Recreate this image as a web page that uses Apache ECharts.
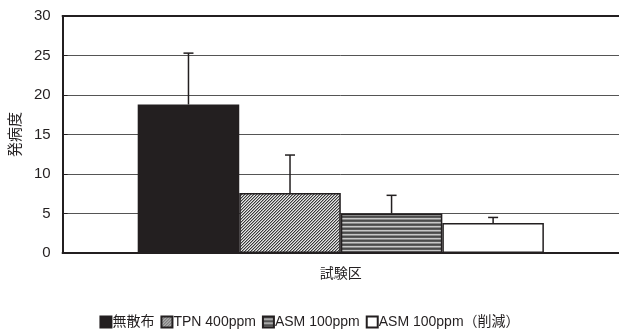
<!DOCTYPE html>
<html>
<head>
<meta charset="utf-8">
<script src="https://cdn.jsdelivr.net/npm/echarts@6/dist/echarts.min.js"></script>
<style>
    html, body { margin: 0; padding: 0; background: #fff; }
    #main { width: 619px; height: 331px; }
</style>
</head>
<body>
<div id="main"></div>
<script>
// 系列名
let seriesNames = ['無散布', 'TPN 400ppm', 'ASM 100ppm', 'ASM 100ppm（削減）'];
// 平均値
let meanValues = [18.8, 7.6, 5.0, 3.8];
// 標準偏差（上側のみ）
let errValues = [6.5, 4.8, 2.3, 0.7];
let yTicks = [0, 5, 10, 15, 20, 25, 30];

let font = "'Liberation Sans', 'Noto Sans CJK JP', sans-serif";
let ink = '#231f20';

// 網目パターン
function hatchPattern() {
    let c = document.createElement('canvas');
    c.width = 3;
    c.height = 3;
    let ctx = c.getContext('2d');
    let cols = ['#3a3a3a', '#a0a0a0', '#e8e8e8'];
    for (let x = 0; x < 3; x++) {
        for (let y = 0; y < 3; y++) {
            ctx.fillStyle = cols[(x + y) % 3];
            ctx.fillRect(x, y, 1, 1);
        }
    }
    return c;
}

// 横縞パターン
function stripePattern() {
    let c = document.createElement('canvas');
    c.width = 4;
    c.height = 4;
    let ctx = c.getContext('2d');
    let rows = ['#4a4a4a', '#5a5a5a', '#c8c8c8', '#8a8a8a'];
    for (let i = 0; i < rows.length; i++) {
        ctx.fillStyle = rows[i];
        ctx.fillRect(0, i, 4, 1);
    }
    return c;
}

let fills = [
    ink,
    { image: hatchPattern(), repeat: 'repeat' },
    { image: stripePattern(), repeat: 'repeat' },
    '#ffffff'
];

let myChart = echarts.init(document.getElementById('main'));

let barSeries = [];
for (let i = 0; i < seriesNames.length; i++) {
    barSeries.push({
        name: seriesNames[i],
        type: 'bar',
        data: [meanValues[i]],
        barGap: '0%',
        barCategoryGap: '27%',
        itemStyle: {
            color: fills[i],
            borderColor: ink,
            borderWidth: 1.5
        },
        emphasis: { disabled: true }
    });
}

let errData = [];
for (let i = 0; i < meanValues.length; i++) {
    errData.push([0, meanValues[i], meanValues[i] + errValues[i], i]);
}

let option = {
    animation: false,
    grid: {
        left: 62,
        right: 0,
        top: 16,
        bottom: 78
    },
    legend: {
        data: seriesNames,
        left: 'center',
        top: 310,
        icon: 'rect',
        itemWidth: 11,
        itemHeight: 11,
        itemGap: 6,
        textStyle: {
            fontFamily: font,
            fontSize: 14,
            color: ink,
            padding: [0, 0, 0, -4]
        }
    },
    xAxis: [{
        type: 'category',
        data: [''],
        name: '試験区',
        nameLocation: 'middle',
        nameGap: 14,
        nameTextStyle: { fontFamily: font, fontSize: 14, color: ink },
        axisLine: { lineStyle: { color: ink, width: 2 } },
        axisTick: { show: false },
        axisLabel: { show: false }
    }, {
        type: 'category',
        data: [''],
        position: 'top',
        axisLine: { lineStyle: { color: ink, width: 2 } },
        axisTick: { show: false },
        axisLabel: { show: false }
    }],
    yAxis: {
        type: 'value',
        min: yTicks[0],
        max: yTicks[yTicks.length - 1],
        interval: 5,
        name: '発病度',
        nameLocation: 'middle',
        nameGap: 37,
        nameRotate: 90,
        nameTextStyle: { fontFamily: font, fontSize: 15, color: ink },
        axisLine: { show: true, lineStyle: { color: ink, width: 2 } },
        axisTick: { show: true, inside: true, length: 5, lineStyle: { color: ink } },
        axisLabel: { fontFamily: font, fontSize: 15, color: ink, margin: 12 },
        splitLine: { lineStyle: { color: '#555', width: 1 } }
    },
    series: barSeries.concat([{
        name: 'error',
        type: 'custom',
        data: errData,
        encode: { x: 0, y: [1, 2] },
        z: 10,
        renderItem: function (params, api) {
            let band = api.size([1, 0])[0];
            let w = band * 0.73 / 4;
            let cx = api.coord([0, 0])[0] + (api.value(3) - 1.5) * w;
            let y1 = api.coord([0, api.value(1)])[1];
            let y2 = api.coord([0, api.value(2)])[1];
            let style = { stroke: ink, lineWidth: 1.5 };
            return {
                type: 'group',
                children: [{
                    type: 'line',
                    shape: { x1: cx, y1: y1, x2: cx, y2: y2 },
                    style: style
                }, {
                    type: 'line',
                    shape: { x1: cx - 5, y1: y2, x2: cx + 5, y2: y2 },
                    style: style
                }]
            };
        }
    }])
};

myChart.setOption(option);
</script>
</body>
</html>
